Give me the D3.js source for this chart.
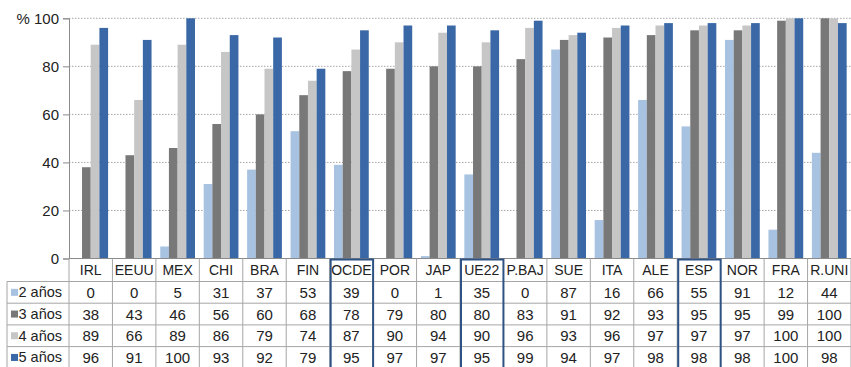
<!DOCTYPE html>
<html>
<head>
<meta charset="utf-8">
<script src="https://cdn.jsdelivr.net/npm/d3@7"></script>
<style>
  html, body { margin: 0; padding: 0; background: #fff; }
  svg { display: block; font-family: "Liberation Sans", Arial, Helvetica, sans-serif; }
</style>
</head>
<body>
<svg id="chart" width="851" height="367"></svg>
<script>
// Schooling rates by age (%), per country
const categories = ["IRL","EEUU","MEX","CHI","BRA","FIN","OCDE","POR","JAP","UE22","P.BAJ","SUE","ITA","ALE","ESP","NOR","FRA","R.UNI"];
const seriesNames = ["2 años","3 años","4 años","5 años"];
const age2 = [0, 0, 5, 31, 37, 53, 39, 0, 1, 35, 0, 87, 16, 66, 55, 91, 12, 44];
const age3 = [38, 43, 46, 56, 60, 68, 78, 79, 80, 80, 83, 91, 92, 93, 95, 95, 99, 100];
const age4 = [89, 66, 89, 86, 79, 74, 87, 90, 94, 90, 96, 93, 96, 97, 97, 97, 100, 100];
const age5 = [96, 91, 100, 93, 92, 79, 95, 97, 97, 95, 99, 94, 97, 98, 98, 98, 100, 98];
const yTicks = [0, 20, 40, 60, 80, 100];
const highlighted = ["OCDE", "UE22", "ESP"];

const seriesValues = [age2, age3, age4, age5];
const colors = ["#a8c2e2", "#787878", "#c6c6c6", "#3a67a5"];

(function draw() {
  const svg = d3.select("#chart");
  const plotLeft = 69, plotRight = 851, plotTop = 18.3, plotBottom = 258.5;
  const headerH = 23, rowH = 21.7, legendLeft = 7;

  const x = d3.scaleBand().domain(categories).range([plotLeft, plotRight]);
  const xs = d3.scaleBand().domain(seriesNames).range([0, x.bandwidth()]).paddingOuter(0.5).paddingInner(0);
  const y = d3.scaleLinear().domain([0, 100]).range([plotBottom, plotTop]);

  // dotted grid lines
  svg.append("g").selectAll("line").data(yTicks.filter(d => d > 0)).join("line")
    .attr("x1", plotLeft).attr("x2", plotRight)
    .attr("y1", d => y(d)).attr("y2", d => y(d))
    .attr("stroke", "#a8a8a8").attr("stroke-width", 1).attr("stroke-dasharray", "1.5,1.5");

  // bars
  const rows = categories.map((c, i) => ({ cat: c, vals: seriesValues.map((s, k) => ({ name: seriesNames[k], v: s[i], k })) }));
  svg.append("g").selectAll("g").data(rows).join("g")
    .attr("transform", d => `translate(${x(d.cat)},0)`)
    .selectAll("rect").data(d => d.vals).join("rect")
    .attr("x", d => xs(d.name))
    .attr("width", xs.bandwidth())
    .attr("y", d => y(d.v))
    .attr("height", d => plotBottom - y(d.v))
    .attr("fill", d => colors[d.k]);

  // y axis
  const yAxis = d3.axisLeft(y).tickValues(yTicks).tickSize(6).tickPadding(4)
    .tickFormat(d => d === 100 ? "% 100" : d);
  const ga = svg.append("g").attr("transform", `translate(${plotLeft},0)`).call(yAxis);
  ga.select(".domain").attr("stroke", "#8a8a8a");
  ga.selectAll(".tick line").attr("stroke", "#8a8a8a");
  ga.selectAll(".tick text").attr("font-size", 15).attr("fill", "#222")
    .attr("font-family", "Liberation Sans, Arial, sans-serif");

  // data table
  const tbl = svg.append("g");
  const tableBottom = plotBottom + headerH + rowH * seriesNames.length;
  const lineColor = "#a6a6a6";

  // horizontal lines
  const hLines = [plotBottom, plotBottom + headerH];
  seriesNames.forEach((s, k) => hLines.push(plotBottom + headerH + rowH * (k + 1)));
  tbl.selectAll("line.h").data(hLines).join("line").attr("class", "h")
    .attr("x1", (d, i) => i === 0 ? plotLeft : legendLeft).attr("x2", plotRight)
    .attr("y1", d => d).attr("y2", d => d)
    .attr("stroke", (d, i) => i === 0 ? "#8a8a8a" : lineColor).attr("stroke-width", 1);

  // vertical lines
  const vLines = categories.map(c => x(c)).concat([plotRight]);
  tbl.selectAll("line.v").data(vLines).join("line").attr("class", "v")
    .attr("x1", d => d).attr("x2", d => d)
    .attr("y1", plotBottom).attr("y2", tableBottom)
    .attr("stroke", lineColor);
  tbl.append("line")
    .attr("x1", legendLeft).attr("x2", legendLeft)
    .attr("y1", plotBottom + headerH).attr("y2", tableBottom)
    .attr("stroke", lineColor);

  // header labels
  tbl.selectAll("text.hd").data(categories).join("text").attr("class", "hd")
    .attr("x", d => x(d) + x.bandwidth() / 2)
    .attr("y", plotBottom + headerH / 2 + 5)
    .attr("text-anchor", "middle").attr("font-size", 14).attr("fill", "#222")
    .text(d => d);

  // legend column
  const leg = tbl.selectAll("g.leg").data(seriesNames).join("g").attr("class", "leg")
    .attr("transform", (d, k) => `translate(0,${plotBottom + headerH + rowH * k})`);
  leg.append("rect").attr("x", 11).attr("y", rowH / 2 - 3.5).attr("width", 7).attr("height", 7)
    .attr("fill", (d, k) => colors[k]);
  leg.append("text").attr("x", 18.5).attr("y", rowH / 2 + 5)
    .attr("font-size", 14.5).attr("fill", "#222").text(d => d);

  // values
  seriesValues.forEach((vals, k) => {
    tbl.append("g").selectAll("text").data(vals).join("text")
      .attr("x", (d, i) => x(categories[i]) + x.bandwidth() / 2)
      .attr("y", plotBottom + headerH + rowH * k + rowH / 2 + 5.5)
      .attr("text-anchor", "middle").attr("font-size", 15).attr("fill", "#222")
      .text(d => d);
  });

  // highlighted columns
  tbl.selectAll("rect.hl").data(highlighted).join("rect").attr("class", "hl")
    .attr("x", d => x(d) + 1).attr("y", plotBottom + 1)
    .attr("width", x.bandwidth() - 1).attr("height", tableBottom - plotBottom)
    .attr("fill", "none").attr("stroke", "#2e5283").attr("stroke-width", 2);
})();
</script>
</body>
</html>
